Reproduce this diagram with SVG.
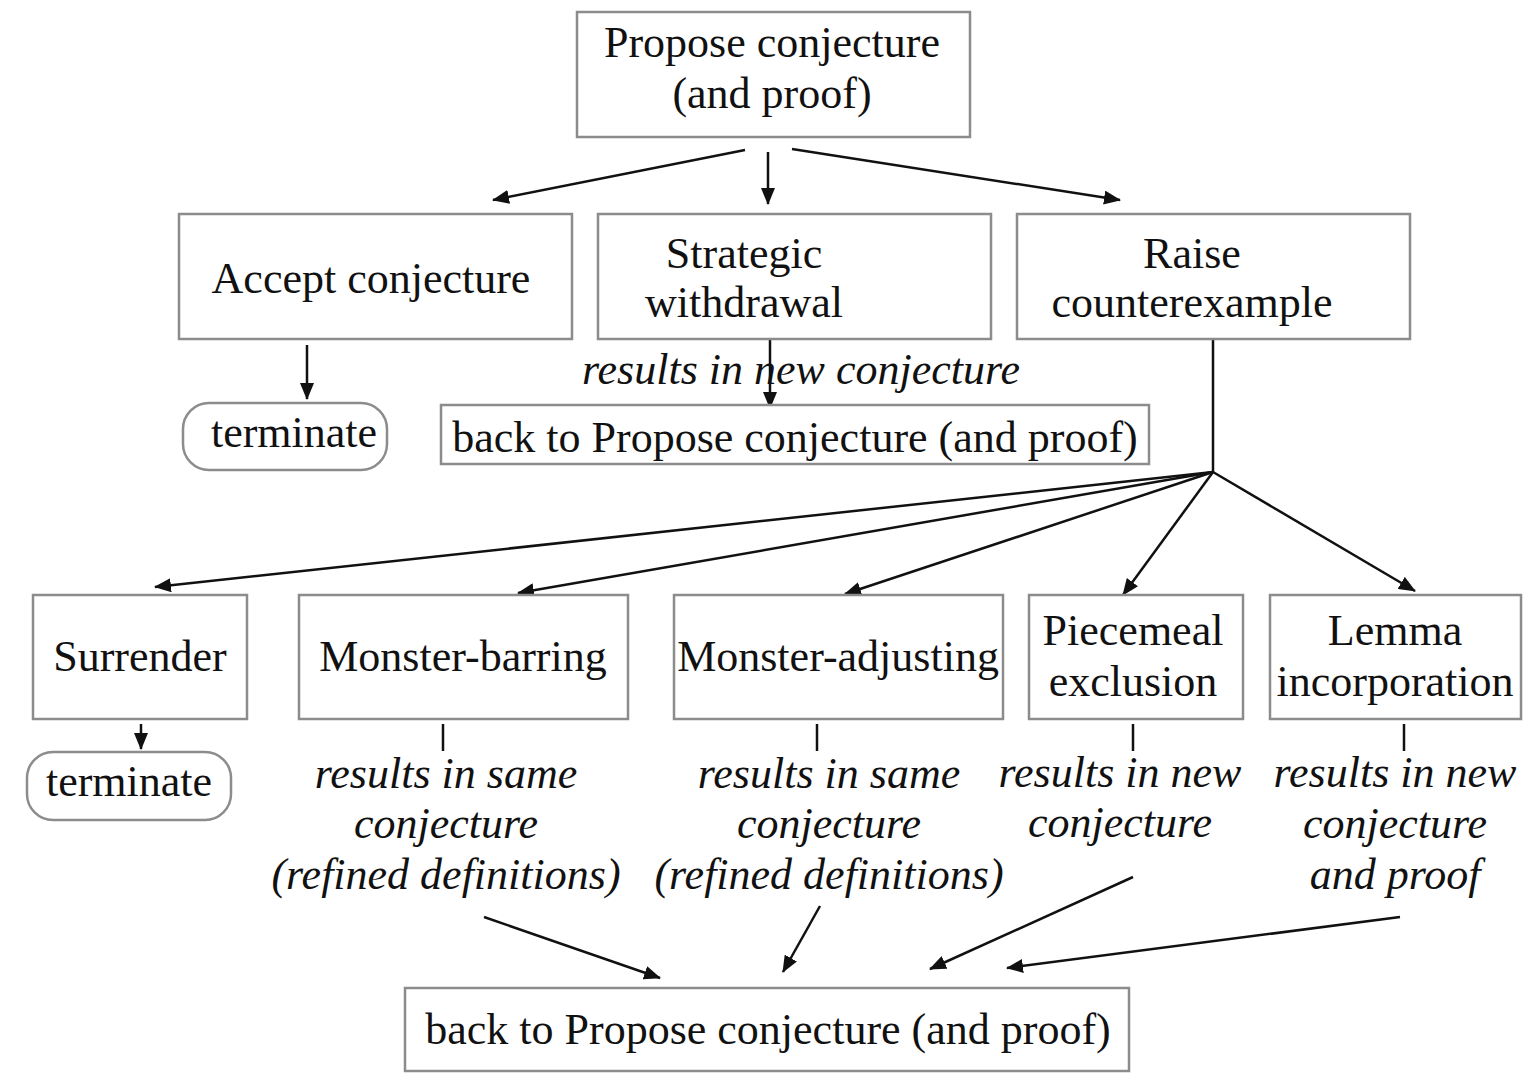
<svg xmlns="http://www.w3.org/2000/svg" width="1538" height="1081" viewBox="0 0 1538 1081">
  <style>
    .box { fill: #fff; stroke: #8c8c8c; stroke-width: 2.5; }
    .lbl { font-family: "Liberation Serif", "Times New Roman", serif; font-size: 44px; fill: #111; text-anchor: middle; }
    .it { font-family: "Liberation Serif", "Times New Roman", serif; font-size: 44px; font-style: italic; fill: #111; text-anchor: middle; }
    .edge { stroke: #111; stroke-width: 2.5; fill: none; }
    .arr { marker-end: url(#head); }
  </style>
  <defs>
    <marker id="head" markerUnits="userSpaceOnUse" markerWidth="18" markerHeight="14" refX="16" refY="7" orient="auto">
      <path d="M0,0 L17,7 L0,14 Z" fill="#111"/>
    </marker>
  </defs>

  <rect width="1538" height="1081" fill="#fff"/>

  <!-- connectors -->
  <g id="connectors">
    <line class="edge arr" x1="745" y1="150" x2="493" y2="200"/>
    <line class="edge arr" x1="768" y1="152" x2="768" y2="204"/>
    <line class="edge arr" x1="792" y1="149" x2="1120" y2="200"/>
    <line class="edge arr" x1="307" y1="345" x2="307" y2="399"/>
    <line class="edge arr" x1="770" y1="339" x2="770" y2="408"/>
    <line class="edge" x1="1213" y1="339" x2="1213" y2="472"/>
    <line class="edge arr" x1="1213" y1="472" x2="155" y2="587"/>
    <line class="edge arr" x1="1213" y1="472" x2="518" y2="593"/>
    <line class="edge arr" x1="1213" y1="472" x2="845" y2="594"/>
    <line class="edge arr" x1="1213" y1="472" x2="1123" y2="595"/>
    <line class="edge arr" x1="1213" y1="472" x2="1415" y2="591"/>
    <line class="edge arr" x1="141" y1="724" x2="141" y2="749"/>
    <line class="edge" x1="443" y1="724" x2="443" y2="751"/>
    <line class="edge" x1="817" y1="724" x2="817" y2="751"/>
    <line class="edge" x1="1133" y1="724" x2="1133" y2="751"/>
    <line class="edge" x1="1404" y1="724" x2="1404" y2="751"/>
    <line class="edge arr" x1="484" y1="917" x2="660" y2="978"/>
    <line class="edge arr" x1="820" y1="906" x2="783" y2="972"/>
    <line class="edge arr" x1="1133" y1="877" x2="930" y2="969"/>
    <line class="edge arr" x1="1400" y1="917" x2="1007" y2="968"/>
  </g>

  <g id="propose">
    <rect class="box" x="577" y="12" width="393" height="125"/>
    <text class="lbl" x="772" y="57">Propose conjecture</text>
    <text class="lbl" x="772" y="108">(and proof)</text>
  </g>

  <g id="accept">
    <rect class="box" x="179" y="214" width="393" height="125"/>
    <text class="lbl" x="371" y="293">Accept conjecture</text>
  </g>

  <g id="withdrawal">
    <rect class="box" x="598" y="214" width="393" height="125"/>
    <text class="lbl" x="744" y="268">Strategic</text>
    <text class="lbl" x="744" y="317">withdrawal</text>
  </g>

  <g id="raise">
    <rect class="box" x="1017" y="214" width="393" height="125"/>
    <text class="lbl" x="1192" y="268">Raise</text>
    <text class="lbl" x="1192" y="317">counterexample</text>
  </g>

  <g id="terminate-1">
    <rect class="box" x="183" y="403" width="204" height="67" rx="26"/>
    <text class="lbl" x="294" y="447">terminate</text>
  </g>

  <g id="withdrawal-result">
    <text class="it" x="801" y="384">results in new conjecture</text>
  </g>

  <g id="back-1">
    <rect class="box" x="441" y="405" width="708" height="59"/>
    <text class="lbl" x="795" y="452">back to Propose conjecture (and proof)</text>
  </g>

  <g id="surrender">
    <rect class="box" x="33" y="595" width="214" height="124"/>
    <text class="lbl" x="140" y="671">Surrender</text>
  </g>

  <g id="monster-barring">
    <rect class="box" x="299" y="595" width="329" height="124"/>
    <text class="lbl" x="463" y="671">Monster-barring</text>
  </g>

  <g id="monster-adjusting">
    <rect class="box" x="674" y="595" width="329" height="124"/>
    <text class="lbl" x="838" y="671">Monster-adjusting</text>
  </g>

  <g id="piecemeal">
    <rect class="box" x="1029" y="595" width="214" height="124"/>
    <text class="lbl" x="1133" y="645">Piecemeal</text>
    <text class="lbl" x="1133" y="696">exclusion</text>
  </g>

  <g id="lemma">
    <rect class="box" x="1270" y="595" width="251" height="124"/>
    <text class="lbl" x="1395" y="645">Lemma</text>
    <text class="lbl" x="1395" y="696">incorporation</text>
  </g>

  <g id="terminate-2">
    <rect class="box" x="27" y="752" width="204" height="68" rx="26"/>
    <text class="lbl" x="129" y="796">terminate</text>
  </g>

  <g id="barring-result">
    <text class="it" x="446" y="788">results in same</text>
    <text class="it" x="446" y="838">conjecture</text>
    <text class="it" x="446" y="889">(refined definitions)</text>
  </g>

  <g id="adjusting-result">
    <text class="it" x="829" y="788">results in same</text>
    <text class="it" x="829" y="838">conjecture</text>
    <text class="it" x="829" y="889">(refined definitions)</text>
  </g>

  <g id="piecemeal-result">
    <text class="it" x="1120" y="787">results in new</text>
    <text class="it" x="1120" y="837">conjecture</text>
  </g>

  <g id="lemma-result">
    <text class="it" x="1395" y="787">results in new</text>
    <text class="it" x="1395" y="838">conjecture</text>
    <text class="it" x="1395" y="889">and proof</text>
  </g>

  <g id="back-2">
    <rect class="box" x="405" y="988" width="724" height="83"/>
    <text class="lbl" x="768" y="1044">back to Propose conjecture (and proof)</text>
  </g>
</svg>
